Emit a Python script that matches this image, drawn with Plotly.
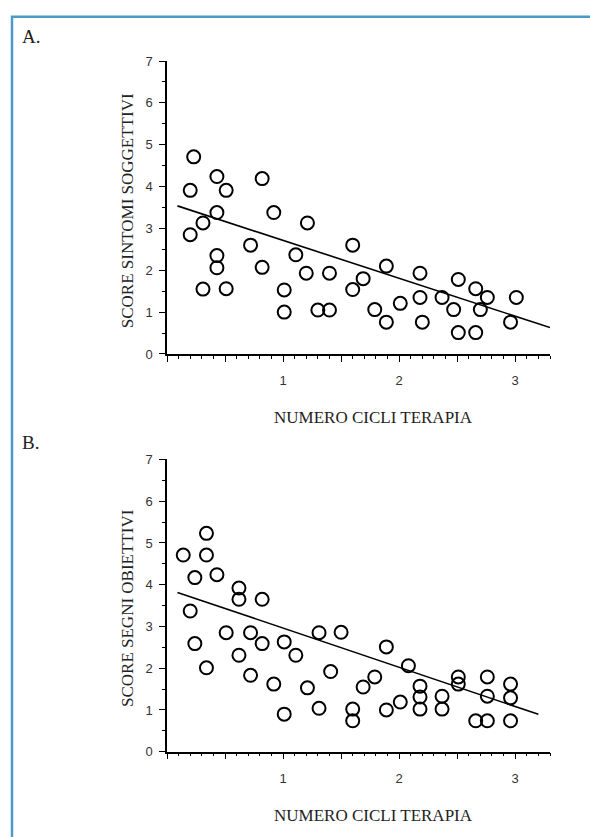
import plotly.graph_objects as go

W, H = 590, 837

# ---- Data: panel A (SCORE SINTOMI SOGGETTIVI) ----
a_cycles = [0.23, 0.20, 0.20, 0.31, 0.31, 0.43, 0.43, 0.43, 0.43, 0.51, 0.51,
            0.72, 0.82, 0.82, 0.92, 1.01, 1.01, 1.11, 1.21, 1.20, 1.30, 1.40,
            1.40, 1.60, 1.60, 1.69, 1.89, 1.79, 1.89, 2.01, 2.18, 2.18, 2.20,
            2.37, 2.47, 2.51, 2.51, 2.66, 2.66, 2.76, 2.70, 3.01, 2.96]
a_scores = [4.71, 3.91, 2.85, 3.13, 1.55, 4.24, 3.38, 2.35, 2.06, 3.91, 1.56,
            2.60, 4.19, 2.07, 3.38, 1.53, 1.00, 2.37, 3.13, 1.93, 1.05, 1.05,
            1.93, 2.60, 1.54, 1.80, 2.10, 1.06, 0.76, 1.21, 1.93, 1.35, 0.76,
            1.35, 1.06, 1.78, 0.51, 1.56, 0.51, 1.35, 1.06, 1.35, 0.76]
a_fit_intercept = 3.62
a_fit_slope = -0.906
a_fit_range = [0.09, 3.30]

# ---- Data: panel B (SCORE SEGNI OBIETTIVI) ----
b_cycles = [0.14, 0.20, 0.24, 0.24, 0.34, 0.34, 0.34, 0.43, 0.51, 0.62, 0.62,
            0.62, 0.72, 0.72, 0.82, 0.82, 0.92, 1.01, 1.01, 1.11, 1.21, 1.31,
            1.31, 1.41, 1.50, 1.60, 1.60, 1.69, 1.79, 1.89, 1.89, 2.01, 2.08,
            2.18, 2.18, 2.18, 2.37, 2.37, 2.51, 2.51, 2.66, 2.76, 2.76, 2.76,
            2.96, 2.96, 2.96]
b_scores = [4.71, 3.37, 4.17, 2.59, 5.23, 4.71, 2.01, 4.24, 2.85, 3.92, 3.65,
            2.31, 2.85, 1.83, 3.65, 2.59, 1.62, 2.63, 0.90, 2.31, 1.53, 2.85,
            1.04, 1.92, 2.86, 1.02, 0.74, 1.55, 1.79, 2.51, 1.00, 1.19, 2.06,
            1.57, 1.31, 1.02, 1.33, 1.02, 1.79, 1.62, 0.74, 1.79, 1.33, 0.74,
            1.62, 1.29, 0.74]
b_fit_intercept = 3.90
b_fit_slope = -0.939
b_fit_range = [0.09, 3.20]

x_tick_vals = [0, 0.5, 1, 1.5, 2, 2.5, 3]
x_tick_text = ["", "", "1", "", "2", "", "3"]
y_tick_vals = [0, 1, 2, 3, 4, 5, 6, 7]
y_tick_text = ["0", "1", "2", "3", "4", "5", "6", "7"]

panel_labels = ["A.", "B."]
y_titles = ["SCORE SINTOMI SOGGETTIVI", "SCORE SEGNI OBIETTIVI"]
x_title = "NUMERO CICLI TERAPIA"


def px_x(p):
    return p / W


def px_y(p):
    return 1 - p / H


fig = go.Figure()

panels = [
    (a_cycles, a_scores, a_fit_intercept, a_fit_slope, a_fit_range, "x", "y"),
    (b_cycles, b_scores, b_fit_intercept, b_fit_slope, b_fit_range, "x2", "y2"),
]
for xs, ys, b0, b1, rng, xa, ya in panels:
    fig.add_trace(go.Scatter(
        x=xs, y=ys, mode="markers", xaxis=xa, yaxis=ya,
        marker=dict(symbol="circle-open", size=13, color="black",
                    line=dict(width=2, color="black")),
        showlegend=False, hoverinfo="skip"))
    fx = rng
    fy = [b0 + b1 * v for v in fx]
    fig.add_trace(go.Scatter(
        x=fx, y=fy, mode="lines", xaxis=xa, yaxis=ya,
        line=dict(color="black", width=1.6),
        showlegend=False, hoverinfo="skip"))

x_dom = [px_x(167), px_x(550)]
ydomA = [px_y(353.3), px_y(55)]
ydomB = [px_y(758.3), px_y(460.7)]

tickfont = dict(family="Liberation Sans, Arial, sans-serif", size=13, color="#333333")

xaxis_common = dict(
    domain=x_dom, range=[0, 3.3], showgrid=False, zeroline=False,
    showline=True, linecolor="black", linewidth=1.5,
    tickmode="array", tickvals=x_tick_vals, ticktext=x_tick_text,
    ticks="outside", ticklen=6, tickwidth=1.2, tickcolor="black",
    minor=dict(ticks="outside", ticklen=3, tickwidth=1, tickcolor="black",
               tickmode="linear", tick0=0, dtick=0.1),
    tickfont=tickfont, ticklabelstandoff=8,
)
yaxis_common = dict(
    range=[0, 7], showgrid=False, zeroline=False,
    showline=True, linecolor="black", linewidth=1.5,
    tickmode="array", tickvals=y_tick_vals, ticktext=y_tick_text,
    ticks="outside", ticklen=6, tickwidth=1.2, tickcolor="black",
    minor=dict(ticks="outside", ticklen=3, tickwidth=1, tickcolor="black",
               tickmode="linear", tick0=0, dtick=0.5),
    tickfont=tickfont, ticklabelstandoff=4,
)

fig.update_layout(
    width=W, height=H,
    margin=dict(l=0, r=0, t=0, b=0),
    paper_bgcolor="white", plot_bgcolor="white",
    xaxis=dict(**xaxis_common, anchor="y"),
    yaxis=dict(**yaxis_common, domain=ydomA, anchor="x"),
    xaxis2=dict(**xaxis_common, anchor="y2"),
    yaxis2=dict(**yaxis_common, domain=ydomB, anchor="x2"),
)

serif = "Liberation Serif, Times New Roman, serif"
annotations = []
# panel letters
for lab, py in zip(panel_labels, [30, 443]):
    annotations.append(dict(text=lab, x=px_x(20), y=px_y(py), xref="paper", yref="paper",
                            xanchor="left", yanchor="middle", showarrow=False,
                            font=dict(family=serif, size=19, color="#222222")))
# y titles
for t, py in zip(y_titles, [208, 612]):
    annotations.append(dict(text=t, x=px_x(127), y=px_y(py), xref="paper", yref="paper",
                            xanchor="center", yanchor="middle", textangle=-90, showarrow=False,
                            font=dict(family=serif, size=17, color="#222222")))
# x titles
for py in [418, 823]:
    annotations.append(dict(text=x_title, x=px_x(373), y=px_y(py), xref="paper", yref="paper",
                            xanchor="center", yanchor="middle", showarrow=False,
                            font=dict(family=serif, size=17, color="#222222")))
fig.update_layout(annotations=annotations)

# blue frame (top and left edges only, drawn as one open path)
border = "#4b9bc6"
frame_path = "M {x0},{yb} L {x0},{yt} L {xr},{yt}".format(
    x0=px_x(12), yb=-0.01, yt=px_y(10), xr=1.01)
fig.add_shape(type="path", xref="paper", yref="paper", path=frame_path,
              line=dict(color=border, width=2.5), fillcolor="rgba(0,0,0,0)")

# remove the default page margin so the figure fills the window exactly
page_js = ("document.body.style.margin='0';"
           "document.documentElement.style.overflow='hidden';"
           "document.body.style.overflow='hidden';")
fig.write_html("out.html", post_script=page_js,
               config=dict(displayModeBar=False))
